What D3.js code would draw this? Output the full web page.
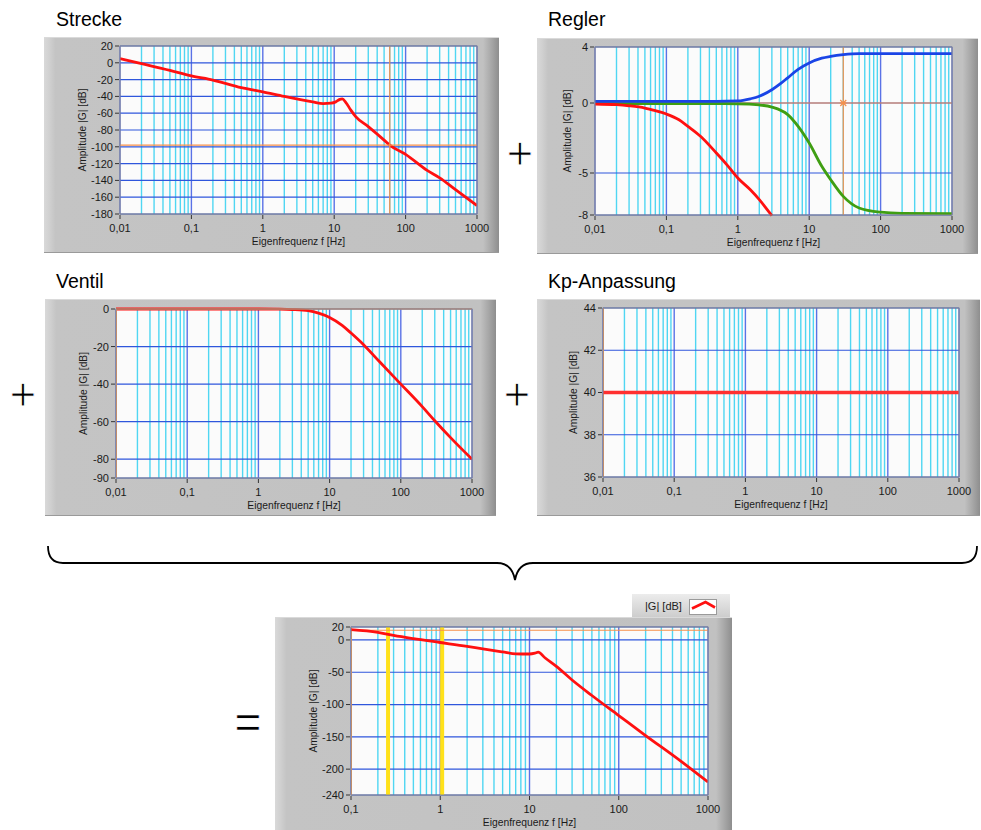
<!DOCTYPE html>
<html><head><meta charset="utf-8">
<script src="https://cdn.jsdelivr.net/npm/d3@7"></script>
<style>body{margin:0;background:#fff}svg{display:block}</style>
</head><body>
<svg id="c" width="981" height="830"></svg>
<script>
// ---------- data ----------
const streckeFreq = [0.01,0.02,0.05,0.1,0.2,0.5,1,2,5,7,9,10.5,12,13,14.5,17,20,30,50,60,100,200,300,500,1000];
const streckeDb   = [5,-1,-9,-15.5,-20.5,-29.5,-34.5,-40,-46.5,-48.5,-48,-46.5,-43.5,-43,-47,-56,-64,-76,-92,-98,-109,-128,-137,-151,-170];

const reglerBlueFreq = [0.01,0.5,1,1.5,2,3,4,5,7,10,15,20,30,50,100,1000];
const reglerBlueDb   = [0.12,0.12,0.15,0.3,0.48,0.95,1.4,1.8,2.4,2.86,3.2,3.33,3.45,3.52,3.52,3.52];
const reglerRedFreq = [0.01,0.02,0.03,0.05,0.07,0.1,0.15,0.2,0.3,0.5,0.7,1,1.5,2,3];
const reglerRedDb   = [-0.07,-0.12,-0.2,-0.36,-0.55,-0.79,-1.2,-1.67,-2.38,-3.57,-4.4,-5.36,-6.2,-6.9,-8.05];
const reglerGreenFreq = [0.01,0.5,1,2,3,5,7,10,15,20,30,50,100,200,1000];
const reglerGreenDb   = [-0.05,-0.05,-0.06,-0.14,-0.29,-0.83,-1.67,-2.86,-4.52,-5.48,-6.67,-7.5,-7.8,-7.88,-7.9];

const ventilFreq = [0.01,1,2,3,5,7,10,15,20,30,50,100,200,300,500,1000];
const ventilDb   = [0,0,-0.1,-0.3,-0.9,-2.2,-4.5,-8.7,-12.8,-19,-28,-40,-52,-59.5,-68.5,-80];

const kpFreq = [0.01,1000];
const kpDb   = [40,40];

const summeFreq = [0.1,0.2,0.3,0.5,1,2,3,5,7,10,11.5,12.5,15,20,30,50,100,200,500,1000];
const summeDb   = [16,11.7,7,2,-4,-10,-14,-18.6,-21.5,-21.8,-20.5,-19,-28,-41,-62,-86,-117,-148,-188,-220];

const yTicksStrecke = [20,0,-20,-40,-60,-80,-100,-120,-140,-160,-180];
const yTicksRegler  = [4,0,-5,-8];
const yTicksVentil  = [0,-20,-40,-60,-80,-90];
const yTicksKp      = [44,42,40,38,36];
const yTicksSumme   = [20,0,-50,-100,-150,-200,-240];
const xTickLabels   = {0.01:"0,01",0.1:"0,1",1:"1",10:"10",100:"100",1000:"1000"};

const titles = ["Strecke","Regler","Ventil","Kp-Anpassung"];
const yAxisTitle = "Amplitude |G| [dB]";
const xAxisTitle = "Eigenfrequenz f [Hz]";
const legendLabel = "|G| [dB]";

// ---------- drawing ----------
const svg = d3.select("#c");
const defs = svg.append("defs");
const fg = defs.append("linearGradient").attr("id","frameGrad").attr("x1",0).attr("x2",1).attr("y1",0).attr("y2",0);
[[0,"#d9d9d9"],[0.012,"#d0d0d0"],[0.025,"#c4c4c4"],[0.965,"#c1c1c1"],[0.982,"#a9a9a9"],[1,"#8e8e8e"]]
  .forEach(s=>fg.append("stop").attr("offset",s[0]).attr("stop-color",s[1]));
const lg = defs.append("linearGradient").attr("id","legGrad").attr("x1",0).attr("x2",0).attr("y1",0).attr("y2",1);
[[0,"#ececec"],[1,"#cdcdcd"]].forEach(s=>lg.append("stop").attr("offset",s[0]).attr("stop-color",s[1]));

const FONT = "'Liberation Sans', Arial, sans-serif";
const RED="#ff1010", BLUE="#1a44e6", GREEN="#3f9e12", ORANGE="#f7904a";

let clipId = 0;
function panel(o){
  const g = svg.append("g");
  const [fl,ft,fr,fb] = o.frame;
  g.append("rect").attr("x",fl).attr("y",ft).attr("width",fr-fl).attr("height",fb-ft).attr("fill","url(#frameGrad)");
  g.append("line").attr("x1",fl).attr("x2",fr).attr("y1",ft+0.5).attr("y2",ft+0.5).attr("stroke","#dadada");
  g.append("line").attr("x1",fl).attr("x2",fr).attr("y1",fb-0.5).attr("y2",fb-0.5).attr("stroke","#9a9a9a");
  const [L,T,R,B] = o.plot;
  const x = d3.scaleLog().domain(o.xDomain).range([L,R]);
  const y = d3.scaleLinear().domain(o.yDomain).range([B,T]);
  g.append("rect").attr("x",L).attr("y",T).attr("width",R-L).attr("height",B-T).attr("fill","#fbfbfb");
  const d0 = Math.round(Math.log10(o.xDomain[0])), d1 = Math.round(Math.log10(o.xDomain[1]));
  const minor=[], major=[];
  for(let d=d0; d<=d1; d++){ major.push(Math.pow(10,d)); if(d<d1) for(let k=2;k<=9;k++) minor.push(k*Math.pow(10,d)); }
  g.selectAll(".mi").data(minor).join("line").attr("x1",d=>x(d)).attr("x2",d=>x(d)).attr("y1",T).attr("y2",B)
    .attr("stroke","#4fd6f2").attr("stroke-width",1.4);
  g.selectAll(".ma").data(major).join("line").attr("x1",d=>x(d)).attr("x2",d=>x(d)).attr("y1",T).attr("y2",B)
    .attr("stroke","#5a72e6").attr("stroke-width",1.4);
  g.selectAll(".hg").data(o.yTicks).join("line").attr("x1",L).attr("x2",R).attr("y1",d=>y(d)).attr("y2",d=>y(d))
    .attr("stroke","#2f56dc").attr("stroke-width",1.2);
  (o.yellow||[]).forEach(f=>g.append("line").attr("x1",x(f)).attr("x2",x(f)).attr("y1",T).attr("y2",B)
    .attr("stroke","#ffe11a").attr("stroke-width",4));
  const cid = "clip"+(clipId++);
  defs.append("clipPath").attr("id",cid).append("rect").attr("x",L).attr("y",T-2).attr("width",R-L).attr("height",B-T+4);
  const cg = g.append("g").attr("clip-path",`url(#${cid})`);
  const line = d3.line().x(d=>x(d[0])).y(d=>y(d[1])).curve(d3.curveMonotoneX);
  (o.series||[]).forEach(s=>{
    cg.append("path").attr("d",line(d3.zip(s.f,s.v))).attr("fill","none").attr("stroke",s.color)
      .attr("stroke-width",s.w||2.8).attr("stroke-linejoin","round");
  });
  (o.cursorsH||[]).forEach(v=>cg.append("line").attr("x1",L).attr("x2",R).attr("y1",y(v)).attr("y2",y(v)).attr("stroke",ORANGE).attr("stroke-width",1.2));
  (o.cursorsV||[]).forEach(f=>cg.append("line").attr("x1",x(f)).attr("x2",x(f)).attr("y1",T).attr("y2",B).attr("stroke",ORANGE).attr("stroke-width",o.cvw||1.2));
  (o.series2||[]).forEach(s=>{
    cg.append("path").attr("d",line(d3.zip(s.f,s.v))).attr("fill","none").attr("stroke",s.color)
      .attr("stroke-width",s.w||2.8).attr("stroke-linejoin","round");
  });
  if(o.marker){ const mx=x(o.marker[0]), my=y(o.marker[1]);
    cg.append("path").attr("d",`M${mx-3},${my-3}L${mx+3},${my+3}M${mx-3},${my+3}L${mx+3},${my-3}M${mx-3.5},${my}L${mx+3.5},${my}`)
      .attr("stroke",ORANGE).attr("stroke-width",1.2);
  }
  g.append("rect").attr("x",L).attr("y",T).attr("width",R-L).attr("height",B-T).attr("fill","none").attr("stroke","#8a8a8a").attr("stroke-width",1);
  g.selectAll(".yt").data(o.yTicks).join("line").attr("x1",L-5).attr("x2",L-1).attr("y1",d=>y(d)).attr("y2",d=>y(d)).attr("stroke","#333");
  g.selectAll(".yl").data(o.yTicks).join("text").attr("x",L-7).attr("y",d=>y(d)).attr("dy","0.36em")
    .attr("text-anchor","end").attr("font-family",FONT).attr("font-size",11).attr("fill","#1a1a1a").text(d=>d);
  g.selectAll(".xt").data(major).join("line").attr("x1",d=>x(d)).attr("x2",d=>x(d)).attr("y1",B+1).attr("y2",B+5).attr("stroke","#333");
  g.selectAll(".xl").data(major).join("text").attr("x",d=>x(d)).attr("y",B+17.5).attr("text-anchor","middle")
    .attr("font-family",FONT).attr("font-size",11).attr("fill","#1a1a1a").text(d=>xTickLabels[d]);
  g.append("text").attr("x",(L+R)/2).attr("y",B+31).attr("text-anchor","middle").attr("font-family",FONT)
    .attr("font-size",10.3).attr("fill","#1a1a1a").text(xAxisTitle);
  g.append("text").attr("transform",`translate(${o.ylx},${(T+B)/2}) rotate(-90)`).attr("dy","0.35em").attr("text-anchor","middle")
    .attr("font-family",FONT).attr("font-size",10.3).attr("fill","#1a1a1a").text(yAxisTitle);
  if(o.title) svg.append("text").attr("x",o.title[1]).attr("y",o.title[2]).attr("font-family",FONT).attr("font-size",19.5)
    .attr("fill","#000").text(o.title[0]);
}

panel({frame:[44,37,499,253], plot:[120,46,477,214], xDomain:[0.01,1000], yDomain:[-180,20], yTicks:yTicksStrecke, ylx:82,
  series:[{f:streckeFreq,v:streckeDb,color:RED}], cursorsH:[-98], cursorsV:[60], title:[titles[0],56,26]});
panel({frame:[537,38,978,254], plot:[595,47,952,215], xDomain:[0.01,1000], yDomain:[-8,4], yTicks:yTicksRegler, ylx:567,
  cursorsH:[0], cursorsV:[30], marker:[30,0],
  series2:[{f:reglerGreenFreq,v:reglerGreenDb,color:GREEN},{f:reglerRedFreq,v:reglerRedDb,color:RED},{f:reglerBlueFreq,v:reglerBlueDb,color:BLUE}],
  title:[titles[1],548,26]});
panel({frame:[45,299,496,516], plot:[116,309,472,478], xDomain:[0.01,1000], yDomain:[-90,0], yTicks:yTicksVentil, ylx:83,
  series:[{f:ventilFreq,v:ventilDb,color:RED}], cursorsH:[0], cursorsV:[0.01], cvw:2, title:[titles[2],56,288]});
panel({frame:[537,299,980,516], plot:[603,308,959,477], xDomain:[0.01,1000], yDomain:[36,44], yTicks:yTicksKp, ylx:573,
  cursorsV:[0.01], cvw:2, series2:[{f:kpFreq,v:kpDb,color:"#ff3030",w:3.5}], title:[titles[3],548,288]});
panel({frame:[275,617,732,840], plot:[351,627,708,795], xDomain:[0.1,1000], yDomain:[-240,20], yTicks:yTicksSumme, ylx:313,
  yellow:[0.26,1.05], cursorsH:[15], cursorsV:[0.1], cvw:2, series2:[{f:summeFreq,v:summeDb,color:RED}]});

// legend
svg.append("rect").attr("x",632).attr("y",594).attr("width",98).attr("height",23).attr("fill","url(#legGrad)");
svg.append("text").attr("x",645).attr("y",610).attr("font-family",FONT).attr("font-size",11).attr("fill","#222").text(legendLabel);
svg.append("rect").attr("x",689.5).attr("y",599.5).attr("width",27).attr("height",15).attr("fill","#fff").attr("stroke","#9a9a9a");
svg.append("path").attr("d","M692,608.5L705.5,602L715,607.5").attr("fill","none").attr("stroke",RED).attr("stroke-width",2.6);

// operators and brace (thinned glyphs via white outline)
[[23,394],[520,153],[517,394]].forEach(p=>svg.append("text").attr("x",p[0]).attr("y",p[1]+16).attr("text-anchor","middle")
  .attr("font-family",FONT).attr("font-size",46).attr("fill","#000").attr("stroke","#fff").attr("stroke-width",1.1).text("+"));
svg.append("text").attr("x",248).attr("y",738).attr("text-anchor","middle").attr("font-family",FONT).attr("font-size",46)
  .attr("fill","#000").attr("stroke","#fff").attr("stroke-width",0.6).text("=");
svg.append("path").attr("d","M48,546 C48,557 53,563 63,563 L497,563 C507,563 513,569 515,580 C517,569 523,563 533,563 L962,563 C972,563 977,557 977,546")
  .attr("fill","none").attr("stroke","#000").attr("stroke-width",1.8);
</script>
</body></html>
